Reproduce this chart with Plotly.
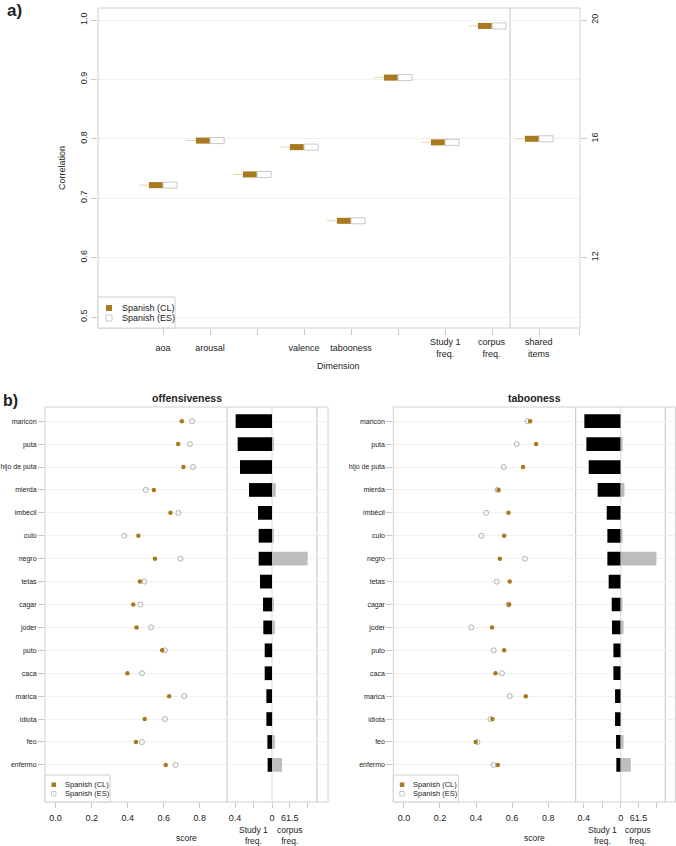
import plotly.graph_objects as go

W, H = 676, 846
def px(v): return v / W
def py(v): return 1 - v / H

FONT = "Liberation Sans, Arial, Helvetica, sans-serif"
TXT = "#222222"
BROWN = "#a9791f"
WHISKER = "#e9d6ad"
ES_EDGE = "#c8c8c8"
ES_DOT = "#b0b0b0"
FRAME = "#d0d0d0"
GRID = "#f0f0f0"
DIVIDER = "#c2c2c2"
ZEROLINE = "#dadada"
TICK = "#c8c8c8"

# ---------------- Panel a data ----------------
dim_labels = ["aoa", "arousal", "", "valence", "tabooness", "", "Study 1<br>freq.", "corpus<br>freq."]
corr_cl = [0.722, 0.797, 0.740, 0.786, 0.662, 0.903, 0.794, 0.990]
corr_es = [0.722, 0.797, 0.740, 0.786, 0.662, 0.903, 0.794, 0.990]
shared_label = "shared<br>items"
shared_cl = [16.0]
shared_es = [16.0]
corr_ticks = [0.5, 0.6, 0.7, 0.8, 0.9, 1.0]
shared_ticks = [12, 16, 20]

# ---------------- Panel b data ----------------
words = ["maricón", "puta", "hijo de puta", "mierda", "imbécil", "culo", "negro", "tetas",
         "cagar", "joder", "puto", "caca", "marica", "idiota", "feo", "enfermo"]
off_cl = [0.700, 0.680, 0.709, 0.545, 0.637, 0.459, 0.551, 0.468, 0.431, 0.449, 0.591, 0.398, 0.630, 0.494, 0.446, 0.611]
off_es = [0.757, 0.745, 0.762, 0.500, 0.681, 0.381, 0.692, 0.492, 0.470, 0.530, 0.606, 0.479, 0.713, 0.606, 0.479, 0.665]
tab_cl = [0.700, 0.733, 0.661, 0.525, 0.580, 0.556, 0.532, 0.587, 0.583, 0.489, 0.556, 0.508, 0.676, 0.491, 0.398, 0.521]
tab_es = [0.685, 0.626, 0.554, 0.519, 0.456, 0.430, 0.671, 0.515, 0.580, 0.374, 0.498, 0.544, 0.587, 0.480, 0.408, 0.497]
study1_freq = [0.393, 0.371, 0.346, 0.249, 0.151, 0.144, 0.144, 0.130, 0.097, 0.094, 0.079, 0.079, 0.061, 0.061, 0.050, 0.047]
corpus_freq = [0, 7, 0, 13, 0.5, 6.5, 124, 0, 6.5, 10, 2, 0, 0, 2, 10, 35]
score_ticks = [0.0, 0.2, 0.4, 0.6, 0.8]
study1_ticks = [0.4, 0.2]
study1_ticktext = ["0.4", ""]
corpus_ticks = [0, 61.5, 123]
corpus_ticktext = ["0", "61.5", ""]

fig = go.Figure()

# ---------------- Panel a traces ----------------
BOX_H = 0.0102          # box thickness in correlation units
BOX_W = 0.3             # half-slot width in category units
pos = list(range(1, len(dim_labels) + 1))
shared_pos = [len(dim_labels) + 1]


def add_boxes(xs, cl, es, h, yaxis):
    wx, wy = [], []
    for p, v in zip(xs, cl):
        wx += [p - BOX_W - 0.21, p - BOX_W, None]
        wy += [v, v, None]
    fig.add_trace(go.Scatter(x=wx, y=wy, mode="lines", line=dict(color=WHISKER, width=1),
                             xaxis="x", yaxis=yaxis, hoverinfo="skip"))
    fig.add_trace(go.Bar(x=xs, y=[h] * len(cl), base=[v - h / 2 for v in cl], width=BOX_W, offset=-BOX_W,
                         marker=dict(color=BROWN, line=dict(width=0)), xaxis="x", yaxis=yaxis, name="Spanish (CL)"))
    fig.add_trace(go.Bar(x=xs, y=[h] * len(es), base=[v - h / 2 for v in es], width=BOX_W, offset=0,
                         marker=dict(color="white", line=dict(color=ES_EDGE, width=1)), xaxis="x", yaxis=yaxis,
                         name="Spanish (ES)"))


add_boxes(pos, corr_cl, corr_es, BOX_H, "y")
add_boxes(shared_pos, shared_cl, shared_es, BOX_H * 20, "y2")

# ---------------- Panel b traces ----------------
panels = [
    dict(title="offensiveness", cl=off_cl, es=off_es, L=45, D=227, Z=272, V=317, R=328,
         xs="x2", xf="x3", xc="x4", y="y3"),
    dict(title="tabooness", cl=tab_cl, es=tab_es, L=393.3, D=575.7, Z=620.7, V=665.3, R=675.5,
         xs="x5", xf="x6", xc="x7", y="y4"),
]
for P in panels:
    fig.add_trace(go.Bar(y=words, x=study1_freq, orientation="h", width=0.6,
                         marker=dict(color="black", line=dict(width=0)), xaxis=P["xf"], yaxis=P["y"]))
    fig.add_trace(go.Bar(y=words, x=corpus_freq, orientation="h", width=0.6,
                         marker=dict(color="#bdbdbd", line=dict(width=0)), xaxis=P["xc"], yaxis=P["y"]))
    fig.add_trace(go.Scatter(y=words, x=P["es"], mode="markers",
                             marker=dict(symbol="circle-open", size=5, color=ES_DOT, line=dict(width=1)),
                             xaxis=P["xs"], yaxis=P["y"]))
    fig.add_trace(go.Scatter(y=words, x=P["cl"], mode="markers",
                             marker=dict(symbol="circle", size=4.5, color=BROWN),
                             xaxis=P["xs"], yaxis=P["y"]))

# ---------------- Layout ----------------
A_L, A_R, A_T, A_B = 98, 580, 8, 328
SLOT = 47.0
AOA_X = 163
xa_range = [1 - (AOA_X - A_L) / SLOT, 1 + (A_R - AOA_X) / SLOT]
ya_range = [0.4815, 1.0202]

all_pos = pos + shared_pos
all_labels = dim_labels + [shared_label]
ticktext_a = [l if "<br>" not in l else "" for l in all_labels]

axis_common = dict(zeroline=False, showline=False, tickcolor=TICK, ticks="outside",
                   tickfont=dict(size=9, color=TXT, family=FONT))

layout = dict(
    width=W, height=H, margin=dict(l=0, r=0, t=0, b=0),
    paper_bgcolor="white", plot_bgcolor="white", template="none",
    font=dict(family=FONT, color=TXT, size=9), showlegend=False, barmode="overlay",
    xaxis=dict(domain=[px(A_L), px(A_R)], anchor="y", range=xa_range,
               tickvals=all_pos + [xa_range[1] - 0.01], ticktext=ticktext_a + [""],
               ticklen=6, showgrid=False, tickangle=0, ticklabelstandoff=5, **axis_common),
    yaxis=dict(domain=[py(A_B), py(A_T)], anchor="x", range=ya_range, tickvals=corr_ticks,
               ticktext=[f"{t:.1f}" for t in corr_ticks], tickangle=-90, ticklen=6,
               showgrid=True, gridcolor=GRID, **axis_common),
    yaxis2=dict(overlaying="y", side="right", anchor="x", range=[20 * ya_range[0], 20 * ya_range[1]],
                tickvals=shared_ticks, tickangle=-90, ticklen=6, showgrid=False, **axis_common),
)

B_T, B_B = 407, 802
for i, P in enumerate(panels):
    L, D, Z, R = P["L"], P["D"], P["Z"], P["R"]
    sx = "xaxis" + P["xs"][1:]
    fx = "xaxis" + P["xf"][1:]
    cx = "xaxis" + P["xc"][1:]
    yk = "yaxis" + P["y"][1:]
    layout[sx] = dict(domain=[px(L), px(D)], anchor=P["y"],
                      range=[-10.6 / 180.3, (D - L - 10.6) / 180.3],
                      tickvals=score_ticks, ticktext=[f"{t:.1f}" for t in score_ticks],
                      ticklen=5, showgrid=False, tickangle=0, ticklabelstandoff=2, **axis_common)
    layout[fx] = dict(domain=[px(D), px(Z)], anchor=P["y"], range=[(Z - D) / 92.5, 0],
                      tickvals=study1_ticks, ticktext=study1_ticktext,
                      ticklen=5, showgrid=False, tickangle=0, ticklabelstandoff=2, **axis_common)
    layout[cx] = dict(domain=[px(Z), px(R)], anchor=P["y"], range=[0, (R - Z) * 61.5 / 17.7],
                      tickvals=corpus_ticks, ticktext=corpus_ticktext,
                      ticklen=5, showgrid=False, tickangle=0, ticklabelstandoff=2, **axis_common)
    yc = dict(axis_common)
    yc["tickfont"] = dict(size=7, color=TXT, family=FONT)
    layout[yk] = dict(domain=[py(B_B), py(B_T)], anchor=P["xs"], type="category",
                      categoryorder="array", categoryarray=words,
                      range=[len(words) - 1 + 1.62, -0.62], ticklen=6,
                      showgrid=True, gridcolor=GRID, **yc)

shapes = []
annotations = []

def rect(x0, y0, x1, y1, color=FRAME, fill=None, layer="above", width=1):
    shapes.append(dict(type="rect", xref="paper", yref="paper", x0=px(x0), x1=px(x1), y0=py(y1), y1=py(y0),
                       line=dict(color=color, width=width), fillcolor=fill or "rgba(0,0,0,0)", layer=layer))

def vline(x, y0, y1, color=DIVIDER, layer="below"):
    shapes.append(dict(type="line", xref="paper", yref="paper", x0=px(x), x1=px(x), y0=py(y1), y1=py(y0),
                       line=dict(color=color, width=1), layer=layer))

def text(x, y, s, size=9, bold=False, xanchor="center", angle=0, xref="paper"):
    annotations.append(dict(x=x if xref != "paper" else px(x), y=py(y), xref=xref, yref="paper", text=s,
                            showarrow=False, xanchor=xanchor, yanchor="middle", textangle=angle,
                            font=dict(size=size, family=FONT, color=TXT,
                                      weight="bold" if bold else "normal")))

def legend(x0, y0, x1, y1, sq_x, sq, rows, tx, size):
    rect(x0, y0, x1, y1, color=FRAME, fill="white")
    for (yc, name, filled) in rows:
        if filled:
            shapes.append(dict(type="rect", xref="paper", yref="paper", x0=px(sq_x), x1=px(sq_x + sq),
                               y0=py(yc + sq / 2), y1=py(yc - sq / 2), line=dict(width=0),
                               fillcolor=BROWN, layer="above"))
        else:
            shapes.append(dict(type="rect", xref="paper", yref="paper", x0=px(sq_x), x1=px(sq_x + sq),
                               y0=py(yc + sq / 2), y1=py(yc - sq / 2), line=dict(width=1, color=ES_EDGE),
                               fillcolor="white", layer="above"))
        text(tx, yc, name, size=size, xanchor="left")

# Panel a decorations
rect(A_L, A_T, A_R, A_B)
vline(510, A_T, A_B)
text(14, 11, "a)", size=17, bold=True)
text(62, 168, "Correlation", size=9, angle=-90)
text((A_L + A_R) / 2, 366, "Dimension", size=9)
for p, l in zip(all_pos, all_labels):
    if "<br>" in l:
        text(p, 348, l, size=9, xref="x")
legend(A_L, 297, 175, A_B, 106, 6, [(308, "Spanish (CL)", True), (318, "Spanish (ES)", False)], 120, 9)

# Panel b decorations
text(10, 400, "b)", size=16, bold=True)
for P in panels:
    L, D, Z, V, R = P["L"], P["D"], P["Z"], P["V"], P["R"]
    rect(L, B_T, R, B_B)
    vline(D, B_T, B_B)
    vline(Z, B_T, B_B, color=ZEROLINE)
    vline(V, B_T, B_B)
    text((L + R) / 2, 397.5, P["title"], size=10.5, bold=True)
    text((L + R) / 2, 838, "score", size=8.5)
    text(study1_ticks[1], 835.5, "Study 1<br>freq.", size=8.5, xref=P["xf"])
    text(corpus_ticks[1], 835.5, "corpus<br>freq.", size=8.5, xref=P["xc"])
    legend(L, 775, L + 65, B_B, L + 6.5, 4.5, [(784.7, "Spanish (CL)", True), (793.7, "Spanish (ES)", False)],
           L + 18, 7.5)

layout["shapes"] = shapes
layout["annotations"] = annotations
fig.update_layout(**layout)
fig.write_html("out.html",
               config={"displayModeBar": False, "staticPlot": True},
               post_script="document.body.style.margin='0';document.body.style.padding='0';"
                           "document.documentElement.style.overflow='hidden';")
